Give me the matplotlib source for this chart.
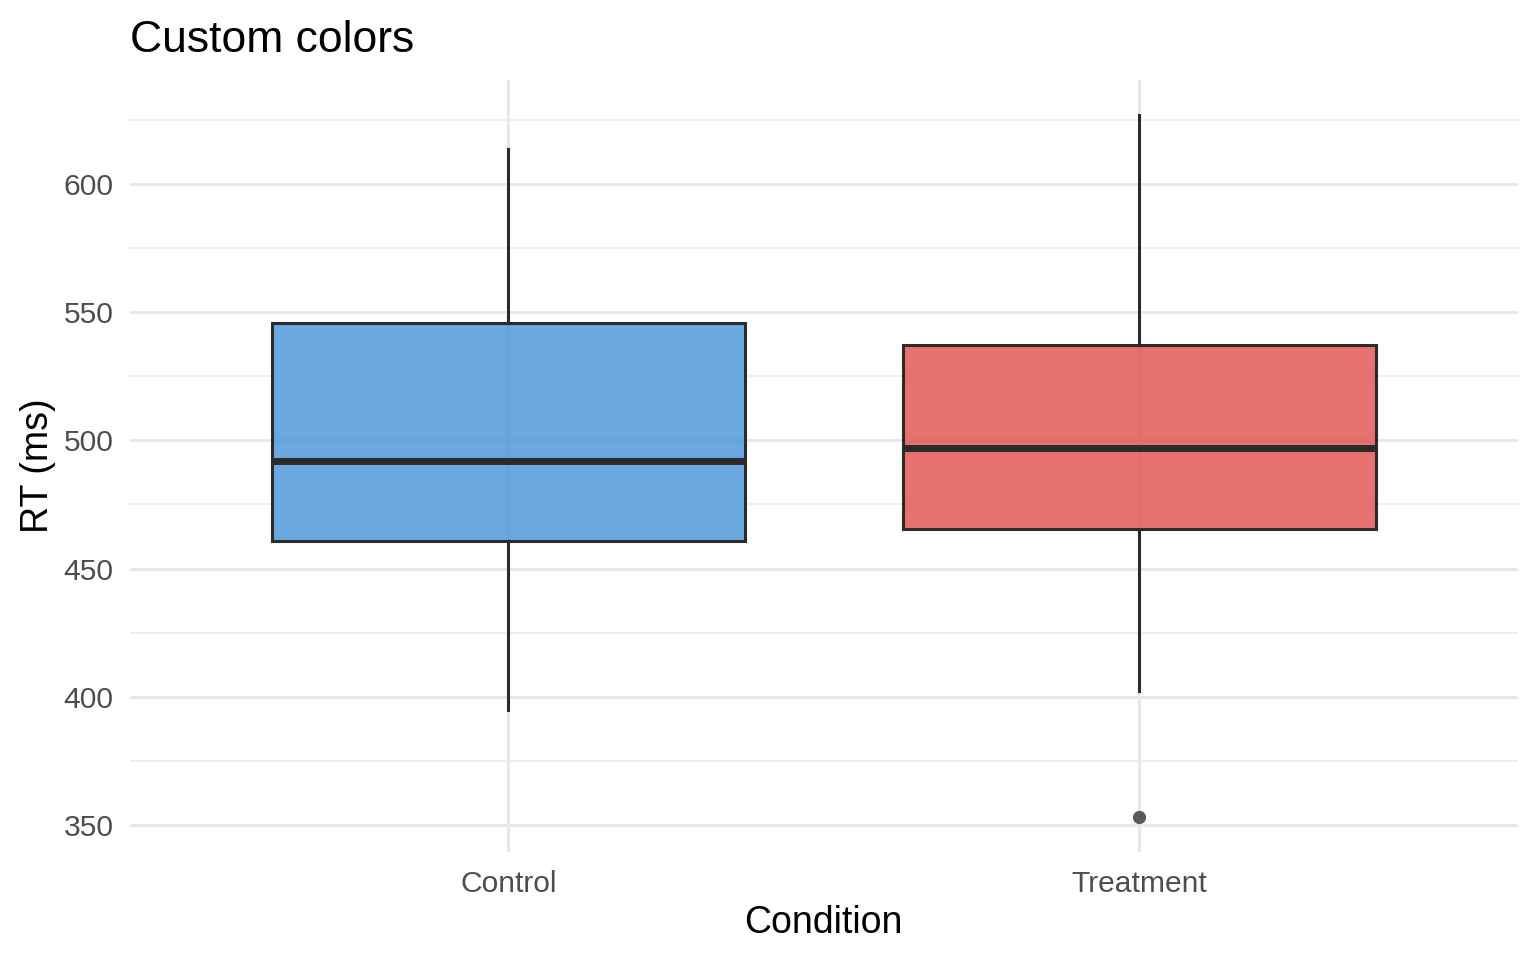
import matplotlib
matplotlib.use("Agg")
import matplotlib.pyplot as plt
from matplotlib.colors import to_rgba
from matplotlib.ticker import MultipleLocator

# Данные
conditions = ["Control", "Treatment"]
whisker_low = [394.9, 402.1]
q1 = [460.6, 465.3]
median = [491.8, 496.9]
q3 = [545.6, 537.4]
whisker_high = [613.6, 626.9]
outliers = [[], [353.1]]
fill_colors = ["#4592D7", "#E14D4A"]

plt.rcParams['font.family'] = ['Liberation Sans', 'DejaVu Sans']

fig = plt.figure(figsize=(15.36, 9.6), dpi=100)
ax = fig.add_axes([130 / 1536, 108 / 960, (1517.6 - 130) / 1536, (852 - 80) / 960])

# Сетка в стиле theme_minimal
ax.set_axisbelow(True)
ax.yaxis.set_major_locator(MultipleLocator(50))
ax.yaxis.set_minor_locator(MultipleLocator(25))
ax.grid(which='major', color='#E8E8E8', linewidth=2.2)
ax.grid(which='minor', axis='y', color='#EBEBEB', linewidth=1.1)
for s in ax.spines.values():
    s.set_visible(False)

stats = []
for i in range(len(conditions)):
    stats.append({
        'label': conditions[i],
        'whislo': whisker_low[i], 'q1': q1[i], 'med': median[i],
        'q3': q3[i], 'whishi': whisker_high[i], 'fliers': outliers[i],
    })

bp = ax.bxp(stats, positions=[1, 2], widths=0.75, patch_artist=True,
            showcaps=False,
            boxprops=dict(edgecolor='#2B2B2B', linewidth=2.2),
            medianprops=dict(color='#2B2B2B', linewidth=5.0, solid_capstyle='butt'),
            whiskerprops=dict(color='#2B2B2B', linewidth=2.2),
            flierprops=dict(marker='o', markerfacecolor='#5A5A5A', markeredgecolor='#5A5A5A',
                            markersize=8.5))
for patch, c in zip(bp['boxes'], fill_colors):
    patch.set_facecolor(to_rgba(c, 0.8))
    patch.set_edgecolor('#2B2B2B')

# Пределы как у ggplot (расширение 5% и 0.6)
lo = min(min(whisker_low), min(min(o) for o in outliers if o))
hi = max(whisker_high)
pad = (hi - lo) * 0.05
ax.set_ylim(lo - pad, hi + pad)
ax.set_xlim(0.4, 2.6)
ax.set_xticks([1, 2])
ax.set_xticklabels(conditions)

ax.tick_params(axis='both', which='both', length=0, labelsize=21.6, labelcolor='#4D4D4D')
ax.tick_params(axis='x', pad=13)
ax.tick_params(axis='y', pad=12)

ax.set_xlabel("Condition", fontsize=27, labelpad=5)
ax.set_ylabel("RT (ms)", fontsize=27, labelpad=5)
ax.set_title("Custom colors", fontsize=32, loc='left', pad=20)

fig.savefig("out.png", dpi=100)
